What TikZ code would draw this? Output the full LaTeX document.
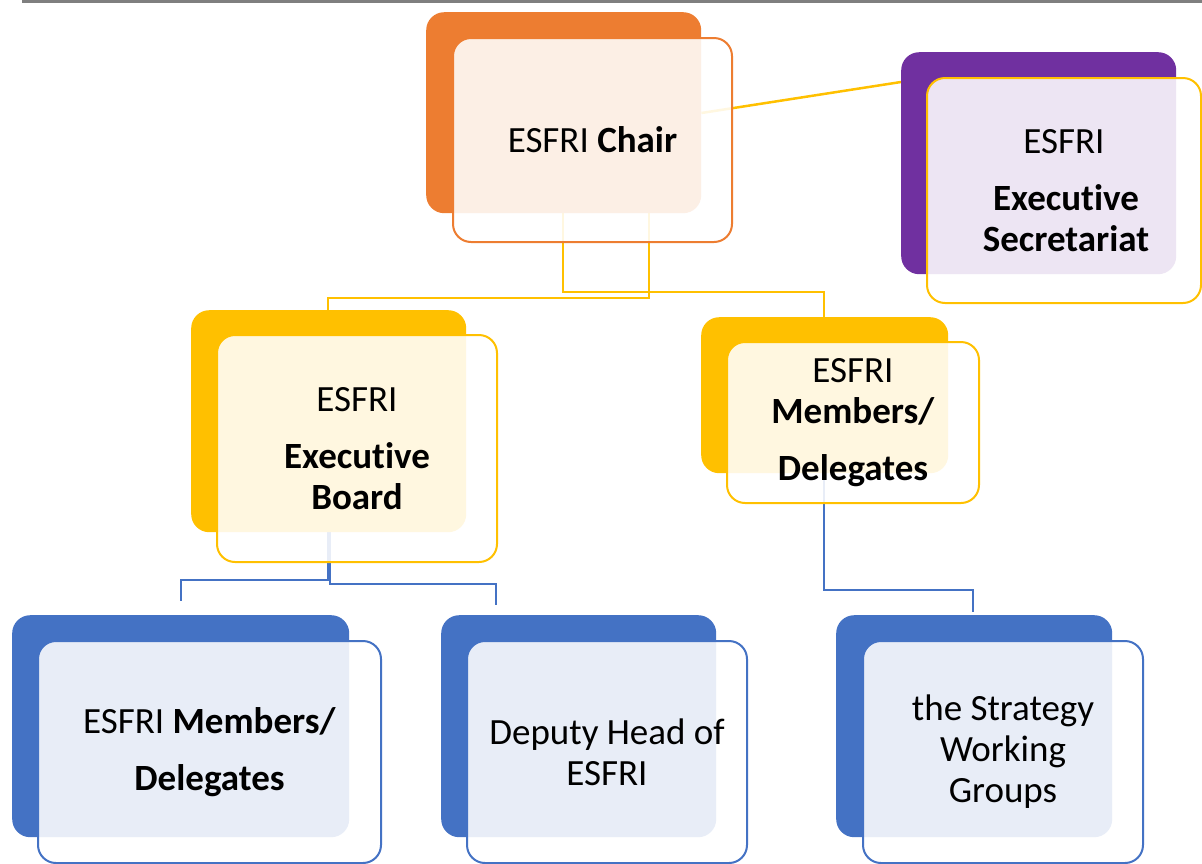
\documentclass[tikz,border=0pt]{standalone}
\usepackage{fontspec}
\setmainfont[Ligatures={NoCommon}]{Carlito}
\definecolor{cOrange}{HTML}{ED7D31}
\definecolor{cYellow}{HTML}{FFC000}
\definecolor{cPurple}{HTML}{7030A0}
\definecolor{cBlue}{HTML}{4472C4}
\definecolor{cGrey}{HTML}{7F7F7F}
\pgfdeclarelayer{bg}
\pgfsetlayers{bg,main}
\tikzset{
  backbox/.style={draw=none, fill=#1, rounded corners=18pt, anchor=north west, inner sep=0pt},
  frontbox/.style={draw=#1, line width=2pt, fill=white, fill opacity=0.88, text opacity=1,
    rounded corners=18pt, anchor=north west, inner sep=0pt, align=center,
    font=\fontsize{37}{41}\selectfont},
  link/.style={line width=2.5pt, draw=#1},
}
\begin{document}
\begin{tikzpicture}[x=1pt,y=-1pt]
\useasboundingbox (0,0) rectangle (1202,863);
\draw[line width=3pt, cGrey] (22,1.5) -- (1202,1.5);

% back boxes
\node[backbox=cOrange, minimum width=275pt, minimum height=201pt] (chairB) at (426,12) {};
\node[backbox=cPurple, minimum width=275pt, minimum height=222pt] (secB) at (901,52) {};
\node[backbox=cYellow, minimum width=275pt, minimum height=222pt] (boardB) at (191,310) {};
\node[backbox=cYellow, minimum width=247pt, minimum height=156pt] (membB) at (701,317) {};
\node[backbox=cBlue, minimum width=337pt, minimum height=222pt] (blB) at (12,615) {};
\node[backbox=cBlue, minimum width=275pt, minimum height=222pt] (bmB) at (441,615) {};
\node[backbox=cBlue, minimum width=276pt, minimum height=222pt] (brB) at (836,615) {};

% front boxes
\node[frontbox=cOrange, minimum width=279pt, minimum height=204pt] (chairF) at (452,37) {ESFRI \textbf{Chair}};
\node[frontbox=cYellow, minimum width=274pt, minimum height=225pt] (secF) at (926,77)
  {ESFRI\\[16pt]\hspace*{4pt}\textbf{Executive}\\\hspace*{4pt}\textbf{Secretariat}};
\node[frontbox=cYellow, minimum width=280pt, minimum height=227pt] (boardF) at (216,334)
  {ESFRI\\[16pt]\textbf{Executive}\\\textbf{Board}};
\node[frontbox=cYellow, minimum width=252pt, minimum height=161pt] (membF) at (726,341)
  {ESFRI\\\textbf{Members/}\\[16pt]\textbf{Delegates}};
\node[frontbox=cBlue, minimum width=343pt, minimum height=222pt] (blF) at (37,640)
  {ESFRI \textbf{Members/}\\[16pt]\textbf{Delegates}};
\node[frontbox=cBlue, minimum width=280pt, minimum height=222pt] (bmF) at (466,640)
  {Deputy Head of\\ESFRI};
\node[frontbox=cBlue, minimum width=280pt, minimum height=222pt] (brF) at (862,640)
  {the Strategy\\Working\\Groups};

% connectors
\begin{pgfonlayer}{bg}
\draw[link=cYellow] (chairB.east |- 0,113) -- (secB.west |- 0,82);
\draw[link=cYellow] (chairB.south -| 563,0) |- (824,292) -- (membB.north -| 824,0);
\draw[link=cYellow] (chairB.south -| 649,0) |- (328,298) -- (boardB.north -| 328,0);
\draw[link=cBlue] (boardB.south -| 328,0) |- (181,580) -- ([yshift=14pt]blB.north -| 181,0);
\draw[link=cBlue] (boardB.south -| 330,0) |- (496,584) -- ([yshift=10pt]bmB.north -| 496,0);
\draw[link=cBlue] (membB.south -| 824,0) |- (973,590) -- ([yshift=3pt]brB.north -| 973,0);
\end{pgfonlayer}
\end{tikzpicture}
\end{document}
